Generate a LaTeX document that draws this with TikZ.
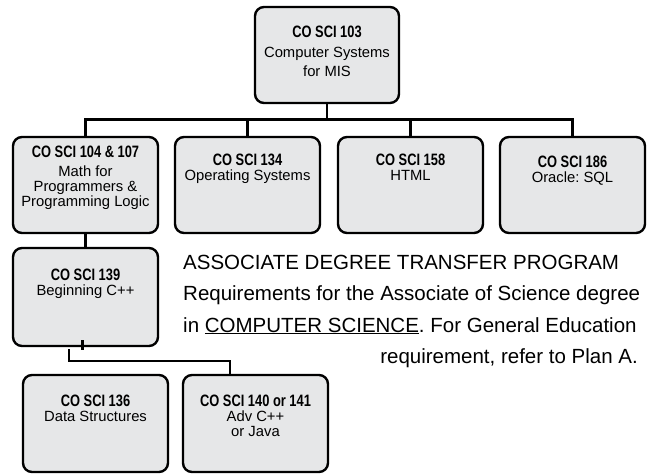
\documentclass[tikz,border=0pt]{standalone}
\usepackage{fontspec}
\setmainfont{Liberation Sans}
\newfontfamily\titlefont[FakeStretch=0.78]{Liberation Sans}
\usetikzlibrary{positioning}
\definecolor{boxgray}{HTML}{E6E7E8}
\tikzset{
  course/.style={draw=black, line width=2.4pt, rounded corners=9pt, fill=boxgray,
    minimum width=145pt, inner sep=0pt},
  coursetext/.style={align=center, inner sep=0pt, anchor=north,
    font=\fontsize{14.8}{15}\selectfont},
  wire/.style={line width=2.8pt},
  note/.style={inner sep=0pt, font=\fontsize{20.5}{22}\selectfont}
}
\newcommand{\ctitle}[1]{{\titlefont\bfseries\fontsize{16.5}{15}\selectfont #1}}
\frenchspacing

\begin{document}
\begin{tikzpicture}[x=1pt,y=-1pt]
\useasboundingbox (0,0) rectangle (651,474);
\node[course, minimum width=144pt, minimum height=96pt] (c103) at (327,55) {};
\node[course, minimum height=96pt] (c104) at (85.5,185) {};
\node[course, minimum height=96pt] (c134) at (247.5,185) {};
\node[course, minimum height=96pt] (c158) at (410.5,185) {};
\node[course, minimum height=96pt] (c186) at (572.5,185) {};
\node[course, minimum height=98pt] (c139) at (85.5,297) {};
\node[course, minimum height=97pt] (c136) at (95.5,423.5) {};
\node[course, minimum height=97pt] (c140) at (255.5,423.5) {};

\node[coursetext, below=20pt of c103.north] (t103) {\ctitle{CO SCI 103}\\[5pt]Computer Systems\\[4pt]for MIS};
\node[coursetext, below=10pt of c104.north] (t104) {\ctitle{CO SCI 104 \& 107}\\[4pt]Math for\\Programmers \&\\Programming Logic};
\node[coursetext, below=18pt of c134.north] (t134) {\ctitle{CO SCI 134}\\Operating Systems};
\node[coursetext, below=18pt of c158.north] (t158) {\ctitle{CO SCI 158}\\HTML};
\node[coursetext, below=20pt of c186.north] (t186) {\ctitle{CO SCI 186}\\Oracle: SQL};
\node[coursetext, below=22pt of c139.north] (t139) {\ctitle{CO SCI 139}\\Beginning C++};
\node[coursetext, below=21pt of c136.north] (t136) {\ctitle{CO SCI 136}\\Data Structures};
\node[coursetext, below=21pt of c140.north] (t140) {\ctitle{CO SCI 140 or 141}\\Adv C++\\or Java};

\draw[wire] (c103.south) -- ++(0,15) -| (c104.north);
\draw[wire] (c103.south) -- ++(0,15) -| (c134.north);
\draw[wire] (c103.south) -- ++(0,15) -| (c158.north);
\draw[wire] (c103.south) -- ++(0,15) -| (c186.north);
\draw[wire] (c104.south) -- (c139.north);
\draw[wire] ([shift={(-3,-7)}]c139.south) -- ++(0,10);
\coordinate (j1) at (69,349);
\coordinate (j2) at (230,361);
\draw[wire] (j1) |- (j2) -- (j2 |- c140.north);

\node[note, anchor=base west] (n1) at (183,269) {ASSOCIATE DEGREE TRANSFER PROGRAM};
\node[note, anchor=base west] (n2) at (183,300.5) {Requirements for the Associate of Science degree};
\node[note, anchor=base west] (n3) at (183,332) {in \underline{COMPUTER SCIENCE}. For General Education};
\node[note, anchor=base east] (n4) at (638,363) {requirement, refer to Plan A.};
\end{tikzpicture}
\end{document}
